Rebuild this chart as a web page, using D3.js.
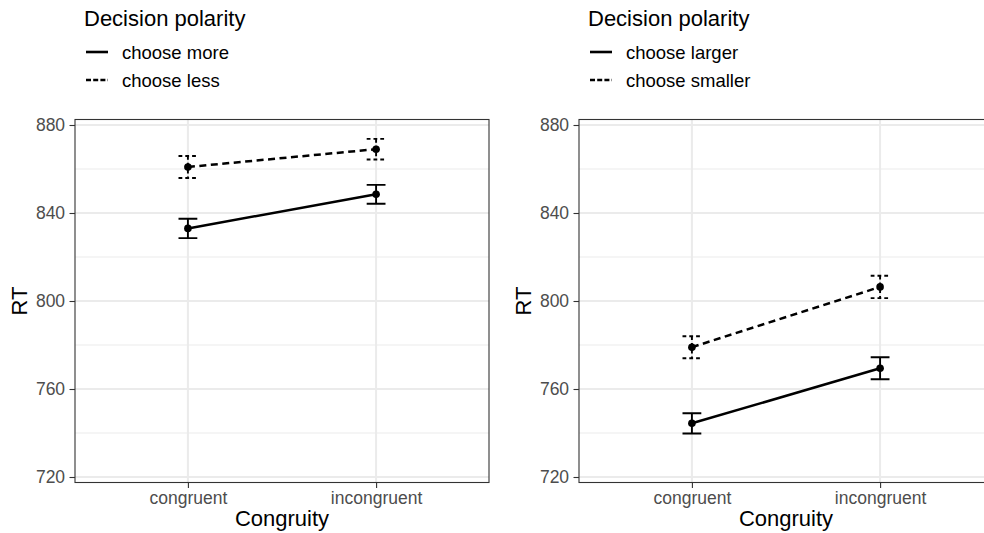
<!DOCTYPE html>
<html>
<head>
<meta charset="utf-8">
<script src="https://cdn.jsdelivr.net/npm/d3@7"></script>
<style>
  html, body { margin: 0; padding: 0; background: #fff; }
  svg { display: block; font-family: "Liberation Sans", Arial, sans-serif; }
</style>
</head>
<body>
<svg id="chart" width="984" height="533"></svg>
<script>
// Condition levels on the x axis
const congruity = ["congruent", "incongruent"];

// Left panel: number-comparison polarity (more / less)
const polarityLeft = ["choose more", "choose less"];
const rtMore = [833.0, 848.5];
const seMore = [4.4, 4.3];
const rtLess = [860.9, 869.0];
const seLess = [5.0, 4.7];

// Right panel: size-comparison polarity (larger / smaller)
const polarityRight = ["choose larger", "choose smaller"];
const rtLarger = [744.4, 769.4];
const seLarger = [4.6, 5.0];
const rtSmaller = [779.0, 806.4];
const seSmaller = [5.0, 5.1];

const yTicks = [720, 760, 800, 840, 880];
const yMinor = [740, 780, 820, 860];
const yLimits = [720, 880];

const svg = d3.select("#chart");

const panelW = 414, panelTop = 119.5, panelBottom = 482.5;
const pad = 2.5; // y-axis expansion in data units

const styles = [
  { line: null, bar: null, key: null },           // solid
  { line: "7,4.5", bar: "3.8,3", key: "5,2.2" }   // dashed
];

function drawPanel(left, legendX, levels, series) {
  const g = svg.append("g");
  const x = d3.scalePoint().domain(congruity).range([left + panelW * 0.6 / 2.2, left + panelW * 1.6 / 2.2]);
  const y = d3.scaleLinear().domain([yLimits[0] - pad, yLimits[1] + pad]).range([panelBottom, panelTop]);
  const step = x.step();

  // panel background
  g.append("rect").attr("x", left).attr("y", panelTop).attr("width", panelW).attr("height", panelBottom - panelTop)
    .attr("fill", "#fff");

  // grid
  g.selectAll(".minor").data(yMinor).join("line")
    .attr("x1", left).attr("x2", left + panelW)
    .attr("y1", d => y(d)).attr("y2", d => y(d))
    .attr("stroke", "#ebebeb").attr("stroke-width", 1.1);
  g.selectAll(".major").data(yTicks).join("line")
    .attr("x1", left).attr("x2", left + panelW)
    .attr("y1", d => y(d)).attr("y2", d => y(d))
    .attr("stroke", "#ebebeb").attr("stroke-width", 2);
  g.selectAll(".vmajor").data(congruity).join("line")
    .attr("x1", d => x(d)).attr("x2", d => x(d))
    .attr("y1", panelTop).attr("y2", panelBottom)
    .attr("stroke", "#ebebeb").attr("stroke-width", 2);

  // series: connecting line, error bars, mean points
  series.forEach((s, i) => {
    const st = styles[i];
    const pts = congruity.map((c, j) => ({ c, v: s.rt[j], se: s.se[j] }));
    const line = d3.line().x(d => x(d.c)).y(d => y(d.v));
    g.append("path").datum(pts).attr("d", line)
      .attr("fill", "none").attr("stroke", "#000").attr("stroke-width", 2.5)
      .attr("stroke-dasharray", st.line);
    const half = step * 0.05;
    pts.forEach(d => {
      const bar = g.append("g").attr("stroke", "#000").attr("stroke-width", 1.9)
        .attr("stroke-dasharray", st.bar).attr("fill", "none");
      const xc = x(d.c), yt = y(d.v + d.se), yb = y(d.v - d.se);
      bar.append("path").attr("d",
        `M${xc - half},${yt}H${xc + half}M${xc},${yt}V${yb}M${xc - half},${yb}H${xc + half}`);
    });
    g.selectAll(null).data(pts).join("circle")
      .attr("cx", d => x(d.c)).attr("cy", d => y(d.v)).attr("r", 3.8).attr("fill", "#000");
  });

  // border
  g.append("rect").attr("x", left).attr("y", panelTop).attr("width", panelW).attr("height", panelBottom - panelTop)
    .attr("fill", "none").attr("stroke", "#333").attr("stroke-width", 1.1);

  // y axis
  const ya = g.append("g").attr("transform", `translate(${left},0)`)
    .call(d3.axisLeft(y).tickValues(yTicks).tickSize(5.5).tickPadding(4.4).tickFormat(d3.format("d")));
  ya.select(".domain").remove();
  ya.selectAll(".tick line").attr("stroke", "#333").attr("stroke-width", 1.1);
  ya.selectAll(".tick text").attr("fill", "#4d4d4d").style("font-size", "17.5px")
    .style("font-family", "Liberation Sans, Arial, sans-serif");

  // x axis
  const xa = g.append("g").attr("transform", `translate(0,${panelBottom})`)
    .call(d3.axisBottom(x).tickSize(5.5).tickPadding(3.5));
  xa.select(".domain").remove();
  xa.selectAll(".tick line").attr("stroke", "#333").attr("stroke-width", 1.1);
  xa.selectAll(".tick text").attr("fill", "#4d4d4d").style("font-size", "17.5px")
    .style("font-family", "Liberation Sans, Arial, sans-serif");

  // axis titles
  g.append("text").attr("x", left + panelW / 2).attr("y", 526).attr("text-anchor", "middle")
    .style("font-size", "22px").attr("fill", "#000").text("Congruity");
  g.append("text").attr("transform", `translate(${left - 48},${(panelTop + panelBottom) / 2}) rotate(-90)`)
    .attr("text-anchor", "middle").style("font-size", "22px").attr("fill", "#000").text("RT");

  // legend
  const lg = svg.append("g").attr("transform", `translate(${legendX},0)`);
  lg.append("text").attr("x", 0).attr("y", 25.5).style("font-size", "22px").attr("fill", "#000")
    .text("Decision polarity");
  levels.forEach((lab, i) => {
    const ky = 52 + i * 28;
    lg.append("line").attr("x1", 2).attr("x2", 24).attr("y1", ky).attr("y2", ky)
      .attr("stroke", "#000").attr("stroke-width", 2.6).attr("stroke-dasharray", styles[i].key);
    lg.append("text").attr("x", 38).attr("y", ky + 7).style("font-size", "18.5px").attr("fill", "#000").text(lab);
  });
}

drawPanel(75, 84, polarityLeft, [
  { rt: rtMore, se: seMore },
  { rt: rtLess, se: seLess }
]);
drawPanel(579, 588, polarityRight, [
  { rt: rtLarger, se: seLarger },
  { rt: rtSmaller, se: seSmaller }
]);
</script>
</body>
</html>
